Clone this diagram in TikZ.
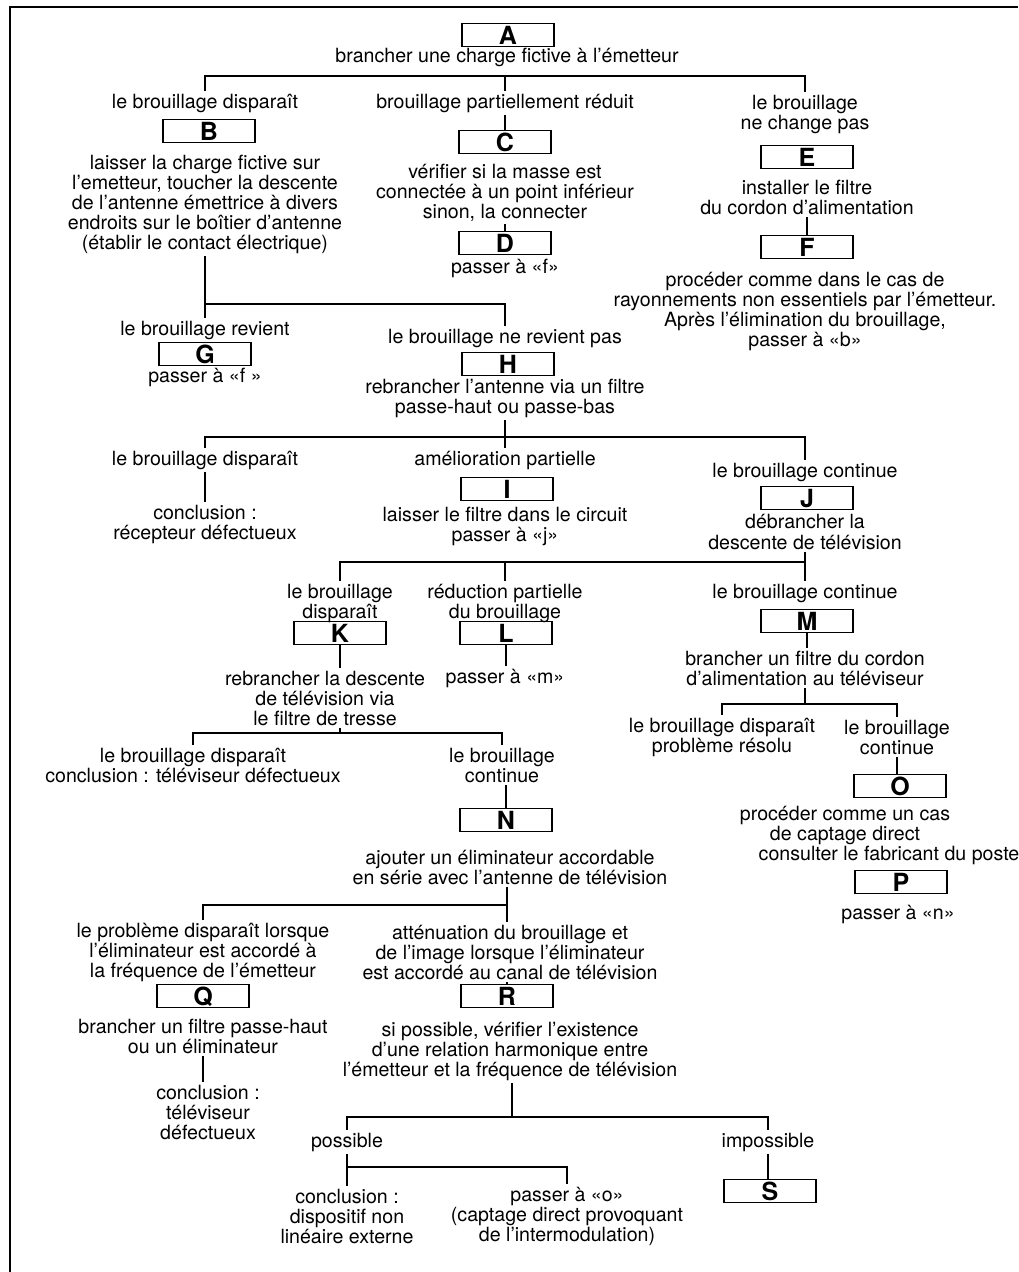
\documentclass[tikz,border=0pt]{standalone}
\usepackage{fontspec}
\setmainfont{TeX Gyre Heros}
\usetikzlibrary{positioning}

\begin{document}
\begin{tikzpicture}[x=0.5pt,y=-0.5pt,line width=0.7pt,
  box node/.style={draw,line width=0.8pt,minimum width=46pt,minimum height=11.5pt,inner sep=0pt,text depth=0pt,font=\fontsize{12.5}{12.5}\selectfont\bfseries},
  text node/.style={align=center,inner sep=1pt,font=\fontsize{9.8}{10}\selectfont}]
  \useasboundingbox (0,0) rectangle (1018,1272);
  \draw[line width=1pt] (10,1272) -- (10,7) -- (1018,7);

  % first test
  \node[box node] (A) at (508,35) {A};
  \node[text node] (tA) at (507,57) {brancher une charge fictive à l’émetteur};
  \node[text node] (l1) at (205,103) {le brouillage disparaît};
  \node[text node] (l2) at (505,103) {brouillage partiellement réduit};
  \node[text node] (l3) at (805,114) {le brouillage\\ne change pas};

  \node[box node] (B) at (209,131) {B};
  \node[text node] (tB) at (205,204) {laisser la charge fictive sur\\l’emetteur, toucher la descente\\de l’antenne émettrice à divers\\endroits sur le boîtier d’antenne\\(établir le contact électrique)};
  \node[box node] (C) at (505,142) {C};
  \node[text node] (tC) at (505,193) {vérifier si la masse est\\connectée à un point inférieur\\sinon, la connecter};
  \node[box node] (D) at (505,243) {D};
  \node[text node] (tD) at (505,268) {passer à «f»};
  \node[box node] (E) at (807,157) {E};
  \node[text node] (tE) at (807,197) {installer le filtre\\du cordon d’alimentation};
  \node[box node] (F) at (807,247) {F};
  \node[text node] (tF) at (805,311) {procéder comme dans le cas de\\rayonnements non essentiels par l’émetteur.\\Après l’élimination du brouillage,\\passer à «b»};

  % second test
  \node[text node] (lG) at (205,330) {le brouillage revient};
  \node[box node] (G) at (205,354) {G};
  \node[text node] (tG) at (205,377) {passer à «f »};
  \node[text node] (lH) at (505,338) {le brouillage ne revient pas};
  \node[box node] (H) at (508,364) {H};
  \node[text node] (tH) at (505,398) {rebrancher l’antenne via un filtre\\passe-haut ou passe-bas};

  \node[text node] (l4) at (205,460) {le brouillage disparaît};
  \node[text node] (t4) at (205,524) {conclusion :\\récepteur défectueux};
  \node[text node] (l5) at (505,460) {amélioration partielle};
  \node[box node] (I) at (507,489) {I};
  \node[text node] (tI) at (505,526) {laisser le filtre dans le circuit\\passer à «j»};
  \node[text node] (l6) at (805,472) {le brouillage continue};
  \node[box node] (J) at (807,498) {J};
  \node[text node] (tJ) at (805,532) {débrancher la\\descente de télévision};

  % television side
  \node[text node] (l7) at (340,603) {le brouillage\\disparaît};
  \node[box node] (K) at (340,633) {K};
  \node[text node] (tK) at (325,698) {rebrancher la descente\\de télévision via\\le filtre de tresse};
  \node[text node] (l8) at (505,603) {réduction partielle\\du brouillage};
  \node[box node] (L) at (506,633) {L};
  \node[text node] (tL) at (505,678) {passer à «m»};
  \node[text node] (l9) at (805,593) {le brouillage continue};
  \node[box node] (M) at (807,621) {M};
  \node[text node] (tM) at (805,668) {brancher un filtre du cordon\\d’alimentation au téléviseur};

  \node[text node] (l10) at (193,765) {le brouillage disparaît\\conclusion : téléviseur défectueux};
  \node[text node] (l11) at (502,765) {le brouillage\\continue};
  \node[box node] (N) at (506,820) {N};
  \node[text node] (tN) at (510,867) {ajouter un éliminateur accordable\\en série avec l’antenne de télévision};

  \node[text node] (l13) at (722,737) {le brouillage disparaît\\problème résolu};
  \node[text node] (l14) at (897,737) {le brouillage\\continue};
  \node[box node] (O) at (900,786) {O};
  \node[text node] (tO) at (845,825) {procéder comme un cas\\de captage direct};
  \node[text node] (tO2) at (889,855) {consulter le fabricant du poste};
  \node[box node] (P) at (901,882) {P};
  \node[text node] (tP) at (898,914) {passer à «n»};

  % eliminateur
  \node[text node] (tQa) at (203,952) {le problème disparaît lorsque\\l’éliminateur est accordé à\\la fréquence de l’émetteur};
  \node[box node] (Q) at (203,996) {Q};
  \node[text node] (tQb) at (203,1036) {brancher un filtre passe-haut\\ou un éliminateur};
  \node[text node] (cQ) at (208,1112) {conclusion :\\téléviseur\\défectueux};
  \node[text node] (tRa) at (510,952) {atténuation du brouillage et\\de l’image lorsque l’éliminateur\\est accordé au canal de télévision};
  \node[box node] (R) at (507,996) {R};
  \node[text node] (tRb) at (510,1051) {si possible, vérifier l’existence\\d’une relation harmonique entre\\l’émetteur et la fréquence de télévision};

  \node[text node] (lPos) at (347,1142) {possible};
  \node[text node] (lImp) at (768,1142) {impossible};
  \node[box node] (S) at (770,1191) {S};
  \node[text node] (cPos) at (347,1216) {conclusion :\\dispositif non\\linéaire externe};
  \node[text node] (tPo) at (567,1216) {passer à «o»\\(captage direct provoquant\\de l’intermodulation)};

  % junctions
  \coordinate (jA) at (505,76);
  \coordinate (jB) at (205,304);
  \coordinate (jH) at (505,437);
  \coordinate (jJ) at (805,562);
  \coordinate (jK) at (340,733);
  \coordinate (jM) at (805,704);
  \coordinate (jN) at (507,905);
  \coordinate (jR) at (512,1117);
  \coordinate (jP) at (347,1167);

  \draw (l1.north) |- (jA) -| (l3.north);
  \draw (jA) -- (l2.north);
  \draw (l2) -- (C);
  \draw (tC) -- (D);
  \draw (tE) -- (F);
  \draw (tB) -- (lG);
  \draw (jB) -| (lH.north);
  \draw (jH |- tH.south) -- (jH);
  \draw (l4.north) |- (jH) -| (l6.north);
  \draw (jH) -- (l5.north);
  \draw (l4) -- (t4);
  \draw (tJ) -- (l9);
  \draw (l7.north) |- (jJ);
  \draw (l8.north) -- (l8.north |- jJ);
  \draw (K.south) -- (K.south |- tK.north);
  \draw (L.south) -- (L.south |- tL.north);
  \draw (M.south) -- (M.south |- tM.north);
  \draw (jK |- tK.south) -- (jK);
  \draw (l10.north) |- (jK) -| (l11.north);
  \draw (N.north) -- (N.north |- l11.south);
  \draw (tM.south) -- (jM);
  \draw (l13.north) |- (jM) -| (l14.north);
  \draw (l14.south) -- (l14.south |- O.north);
  \draw (jN |- tN.south) -- (jN |- tRa.north);
  \draw (jN) -| (tQa.north);
  \draw (tQb.south) -- (tQb.south |- cQ.north);
  \draw (R.north) -- (R.north |- tRa.south);
  \draw (jR |- tRb.south) -- (jR);
  \draw (lPos.north) |- (jR) -| (lImp.north);
  \draw (lPos) -- (cPos);
  \draw (jP) -| (tPo.north);
  \draw (lImp.south) -- (lImp.south |- S.north);
\end{tikzpicture}
\end{document}
